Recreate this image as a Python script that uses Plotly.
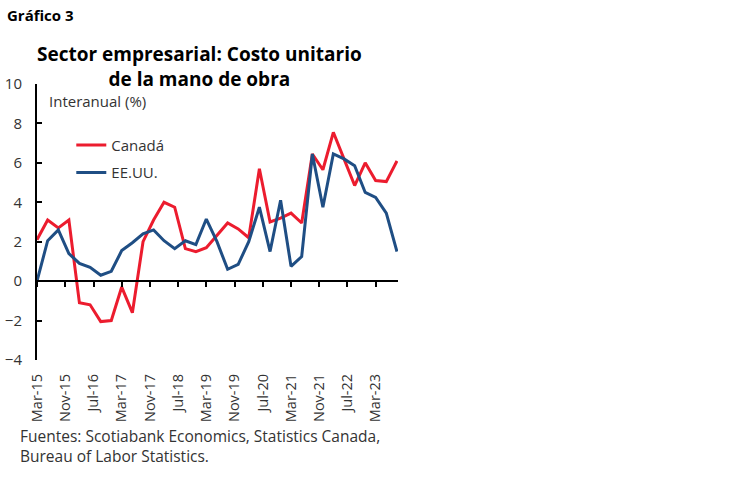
#!/usr/bin/env python3
"""Sector empresarial: costo unitario de la mano de obra (Canadá vs EE.UU.)."""

import pandas as pd
import plotly.graph_objects as go

# quarterly, Mar-15 .. Sep-23 (y/y %)
quarters = pd.date_range(start="2015-03-01", periods=35, freq="3MS")

canada = [
    2.1, 3.1, 2.7, 3.1, -1.1, -1.2, -2.05, -2.0, -0.3, -1.6,
    2.0, 3.1, 4.0, 3.75, 1.65, 1.5, 1.7, 2.3, 2.95, 2.65,
    2.2, 5.7, 3.0, 3.2, 3.45, 2.95, 6.45, 5.65, 7.55, 6.2,
    4.85, 6.0, 5.1, 5.05, 6.1,
]
eeuu = [
    0.0, 2.05, 2.6, 1.4, 0.9, 0.7, 0.3, 0.5, 1.55, 1.95,
    2.4, 2.6, 2.05, 1.65, 2.05, 1.85, 3.15, 2.0, 0.6, 0.85,
    2.0, 3.75, 1.5, 4.1, 0.75, 1.25, 6.45, 3.75, 6.45, 6.2,
    5.85, 4.5, 4.25, 3.45, 1.5,
]

tick_dates = [
    "2015-03-01", "2015-11-01", "2016-07-01", "2017-03-01", "2017-11-01",
    "2018-07-01", "2019-03-01", "2019-11-01", "2020-07-01", "2021-03-01",
    "2021-11-01", "2022-07-01", "2023-03-01",
]
tick_labels = [
    "Mar-15", "Nov-15", "Jul-16", "Mar-17", "Nov-17", "Jul-18", "Mar-19",
    "Nov-19", "Jul-20", "Mar-21", "Nov-21", "Jul-22", "Mar-23",
]
y_ticks = [-4, -2, 0, 2, 4, 6, 8, 10]

RED = "#EC1C2E"
BLUE = "#1F4E84"
TXT = "#333333"
FONT = "Open Sans"
X_RANGE = ["2015-03-01", "2023-09-10"]

fig = go.Figure()
fig.add_trace(go.Scatter(x=quarters, y=canada, mode="lines", name="Canadá",
                         line=dict(color=RED, width=3), legendgroup="ca"))
fig.add_trace(go.Scatter(x=quarters, y=eeuu, mode="lines", name="EE.UU.",
                         line=dict(color=BLUE, width=3), legendgroup="us"))
# invisible copy so the zero-line axis (x2) gets drawn
fig.add_trace(go.Scatter(x=quarters, y=eeuu, mode="lines", xaxis="x2",
                         line=dict(width=0), opacity=0, showlegend=False,
                         hoverinfo="skip"))

fig.update_layout(
    width=750,
    height=483,
    margin=dict(l=37, r=352, t=84, b=123),
    paper_bgcolor="white",
    plot_bgcolor="white",
    font=dict(family=FONT, size=14, color=TXT),
    showlegend=True,
    legend=dict(
        x=0.095, y=0.838, xanchor="left", yanchor="top",
        bgcolor="rgba(0,0,0,0)", font=dict(size=15, color=TXT),
        traceorder="grouped", tracegroupgap=5,
    ),
    # labels only, sitting under the plot area
    xaxis=dict(
        type="date", range=X_RANGE, tickvals=tick_dates, ticktext=tick_labels,
        tickangle=-90, ticks="", showline=False, showgrid=False, zeroline=False,
        tickfont=dict(size=14.5, color=TXT), ticklabelstandoff=10,
        automargin=False,
    ),
    # axis line + ticks at y = 0
    xaxis2=dict(
        type="date", range=X_RANGE, overlaying="x", anchor="free",
        position=4 / 14, tickvals=tick_dates, showticklabels=False,
        ticks="outside", ticklen=5, tickwidth=1.5, tickcolor="black",
        showline=True, linecolor="black", linewidth=2, showgrid=False,
        zeroline=False, automargin=False,
    ),
    yaxis=dict(
        range=[-4, 10], tickvals=y_ticks, ticks="inside", ticklen=5,
        tickwidth=1.5, tickcolor="black", showline=True, linecolor="black",
        linewidth=2, showgrid=False, zeroline=False,
        tickfont=dict(size=15, color=TXT), ticklabelstandoff=10,
        automargin=False,
    ),
)

fig.add_annotation(
    text="<b>Gráfico 3</b>", xref="paper", yref="paper", x=-0.089, y=1.25,
    xanchor="left", yanchor="middle", showarrow=False,
    font=dict(size=15, color="black"),
)
fig.add_annotation(
    text="<b>Sector empresarial: Costo unitario<br>de la mano de obra</b>",
    xref="paper", yref="paper", x=0.4515, y=1.065, xanchor="center",
    yanchor="middle", showarrow=False, font=dict(size=19, color="black"),
)
fig.add_annotation(
    text="Interanual (%)", xref="paper", yref="paper", x=0.028, y=0.938,
    xanchor="left", yanchor="middle", showarrow=False,
    font=dict(size=15, color=TXT),
)
fig.add_annotation(
    text="Fuentes: Scotiabank Economics, Statistics Canada,<br>Bureau of Labor Statistics.",
    xref="paper", yref="paper", x=-0.053, y=-0.227, xanchor="left",
    yanchor="top", align="left", showarrow=False,
    font=dict(size=15.5, color=TXT),
)

# drop the browser's default body margin so the figure sits at (0, 0)
fig.write_html(
    "out.html",
    config={"displayModeBar": False},
    post_script="document.body.style.margin = '0';",
)
